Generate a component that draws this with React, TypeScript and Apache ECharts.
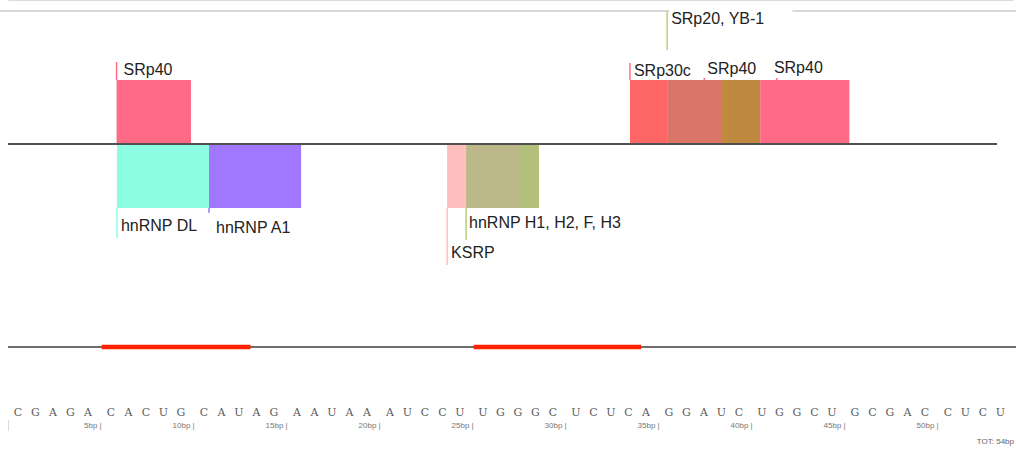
import React, { useEffect, useRef } from "react";
import * as echarts from "echarts";

// ---------- data ----------
const SEQUENCE = "CGAGACACUGCAUAGAAUAAAUCCUUGGGCUCUCAGGAUCUGGCUGCGACCUCU";
const TOTAL_BP = 54;

// binding-site boxes above the sequence line (bp coordinates)
const topStarts = [5.8, 33.4, 35.4, 38.35, 40.4];
const topEnds = [9.8, 35.4, 38.35, 40.4, 45.2];
const topColors = ["#ff6b86", "#ff6666", "#d97669", "#bf8a3f", "#ff6b86"];

// binding-site boxes below the sequence line
const bottomStarts = [5.82, 10.77, 23.57, 24.59, 27.49];
const bottomEnds = [10.77, 15.72, 24.59, 27.49, 28.51];
const bottomColors = ["#8cfce2", "#a078ff", "#ffbfbf", "#bdb88a", "#b2c07a"];

// highlighted motif regions (red)
const motifStarts = [5, 25];
const motifEnds = [13, 34];

// protein labels
const labelNames = [
  "SRp40",
  "SRp30c",
  "SRp20, YB-1",
  "SRp40",
  "SRp40",
  "hnRNP DL",
  "hnRNP A1",
  "hnRNP H1, H2, F, H3",
  "KSRP",
];
const labelPositions = [5.8, 33.4, 35.4, 37.4, 41.3, 5.82, 10.77, 24.59, 23.57];
const labelColors = [
  "#ff6b86",
  "#ff6b86",
  "#c8c87a",
  "#ff6b86",
  "#ff6b86",
  "#8cfce2",
  "#a078ff",
  "#b2d07a",
  "#ffbfbf",
];

// ---------- layout (pixels) ----------
const W = 1016;
const H = 450;
const GRID_LEFT = 8.7;
const GRID_RIGHT = 2.9;
const AXIS_Y = 431;
const Y_TOP_BOX = 80;
const Y_BASE = 144;
const Y_BOTTOM_BOX = 208;
const Y_MOTIF = 347;
const Y_SEQ = 412;

const LABEL_LAYOUT = [
  { y1: 62, y2: 80, ty: 69, dx: 7 },
  { y1: 63, y2: 80, ty: 70, dx: 4 },
  { y1: 11, y2: 50, ty: 18, dx: 2, bg: true },
  { y1: 78, y2: 80, ty: 68, dx: 3 },
  { y1: 78, y2: 80, ty: 67, dx: -3 },
  { y1: 208, y2: 238, ty: 225, dx: 4 },
  { y1: 208, y2: 213, ty: 227, dx: 7 },
  { y1: 208, y2: 240, ty: 222, dx: 3 },
  { y1: 208, y2: 265, ty: 252, dx: 4 },
];

const LABEL_FONT = "Liberation Sans, Arial, sans-serif";

export default function App() {
  const ref = useRef<HTMLDivElement>(null);

  useEffect(() => {
    document.body.style.margin = "0";
    if (!ref.current) return;
    const chart = echarts.init(ref.current, null, { renderer: "svg" });

    const boxSeries = (
      starts: number[],
      ends: number[],
      colors: string[],
      y0: number,
      y1: number
    ) => ({
      type: "custom",
      z: 2,
      data: starts.map((s, i) => [s, ends[i]]),
      renderItem: (params: any, api: any) => {
        const a = api.coord([api.value(0), y0]);
        const b = api.coord([api.value(1), y1]);
        return {
          type: "rect",
          shape: {
            x: a[0],
            y: Math.min(a[1], b[1]),
            width: b[0] - a[0],
            height: Math.abs(b[1] - a[1]),
          },
          style: { fill: colors[params.dataIndex] },
        };
      },
    });

    const option: any = {
      animation: false,
      grid: {
        left: GRID_LEFT,
        right: GRID_RIGHT,
        top: 0,
        bottom: H - AXIS_Y,
      },
      xAxis: {
        type: "value",
        min: 0,
        max: TOTAL_BP,
        interval: 5,
        axisLine: { show: true, lineStyle: { color: "#dcdcdc", width: 1 } },
        axisTick: { show: false },
        splitLine: { show: false },
        axisLabel: {
          inside: true,
          margin: 2,
          align: "right",
          fontSize: 8,
          color: "#777",
          fontFamily: "Liberation Sans, Arial, sans-serif",
          showMaxLabel: false,
          formatter: (v: number) => (v > 0 && v < TOTAL_BP ? `${v}bp |` : ""),
        },
      },
      yAxis: {
        type: "value",
        inverse: true,
        min: 0,
        max: AXIS_Y,
        show: false,
      },
      graphic: [
        {
          type: "line",
          z: 1,
          shape: { x1: 0, y1: 11, x2: W, y2: 11 },
          style: { stroke: "#cccccc", lineWidth: 1.5 },
        },
        {
          type: "line",
          z: 10,
          shape: { x1: 8, y1: Y_BASE, x2: 997, y2: Y_BASE },
          style: { stroke: "#505050", lineWidth: 2.2 },
        },
        {
          type: "line",
          z: 1,
          shape: { x1: 8, y1: Y_MOTIF, x2: W, y2: Y_MOTIF },
          style: { stroke: "#6e6e6e", lineWidth: 2 },
        },
        {
          type: "line",
          z: 1,
          shape: { x1: 8.5, y1: 420, x2: 8.5, y2: AXIS_Y },
          style: { stroke: "#dcdcdc", lineWidth: 1 },
        },
        {
          type: "text",
          z: 1,
          x: 1014,
          y: 441,
          style: {
            text: "TOT: 54bp",
            fill: "#666",
            fontSize: 8,
            fontFamily: "Liberation Sans, Arial, sans-serif",
            align: "right",
            verticalAlign: "middle",
          },
        },
      ],
      series: [
        boxSeries(topStarts, topEnds, topColors, Y_TOP_BOX, Y_BASE),
        boxSeries(bottomStarts, bottomEnds, bottomColors, Y_BASE, Y_BOTTOM_BOX),
        {
          type: "custom",
          z: 5,
          data: motifStarts.map((s, i) => [s, motifEnds[i]]),
          renderItem: (params: any, api: any) => {
            const a = api.coord([api.value(0), Y_MOTIF]);
            const b = api.coord([api.value(1), Y_MOTIF]);
            return {
              type: "line",
              shape: { x1: a[0], y1: a[1], x2: b[0], y2: b[1] },
              style: { stroke: "#ff2200", lineWidth: 4.5 },
            };
          },
        },
        {
          type: "custom",
          z: 6,
          data: labelPositions.map((p) => [p]),
          renderItem: (params: any, api: any) => {
            const i = params.dataIndex;
            const L: any = LABEL_LAYOUT[i];
            const x = api.coord([api.value(0), 0])[0];
            return {
              type: "group",
              children: [
                {
                  type: "text",
                  x: x + L.dx,
                  y: L.ty,
                  style: {
                    text: labelNames[i],
                    fill: "#222",
                    fontSize: 16,
                    fontFamily: LABEL_FONT,
                    align: "left",
                    verticalAlign: "middle",
                    backgroundColor: L.bg ? "#ffffff" : undefined,
                    padding: L.bg ? [3, 28, 3, 2] : 0,
                  },
                },
                {
                  type: "line",
                  shape: { x1: x, y1: L.y1, x2: x, y2: L.y2 },
                  style: { stroke: labelColors[i], lineWidth: 1.5 },
                },
              ],
            };
          },
        },
        {
          type: "custom",
          z: 6,
          data: SEQUENCE.split("").map((_, i) => [i]),
          renderItem: (params: any, api: any) => {
            const i = params.dataIndex;
            const g = Math.floor(i / 5);
            const k = i % 5;
            const gx = api.coord([g * 5, 0])[0];
            const half = api.size([1, 0])[0] / 2;
            return {
              type: "text",
              x: gx + half + k * 17.5,
              y: Y_SEQ,
              style: {
                text: SEQUENCE[i],
                fill: "#5a5a5a",
                fontSize: 11,
                fontFamily: "DejaVu Serif, serif",
                align: "center",
                verticalAlign: "middle",
              },
            };
          },
        },
      ],
    };

    chart.setOption(option);
    return () => chart.dispose();
  }, []);

  return <div ref={ref} style={{ width: W, height: H }} />;
}
